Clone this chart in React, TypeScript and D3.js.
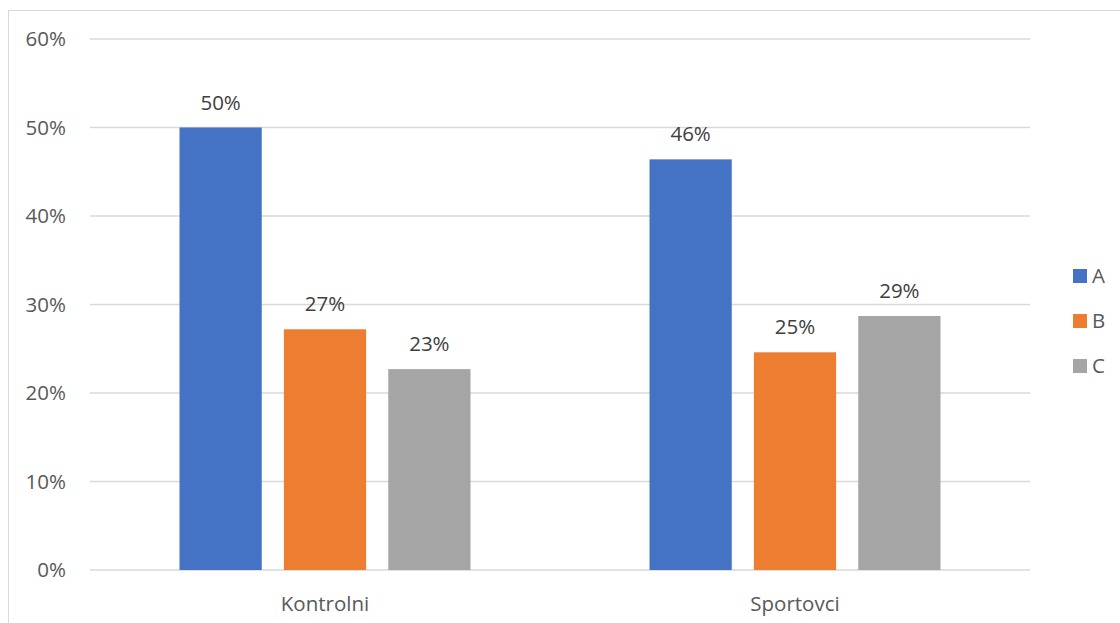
import React from "react";
import * as d3 from "d3";

const categories = ["Kontrolni", "Sportovci"];
const seriesNames = ["A", "B", "C"];
const seriesA = [0.5, 0.464];
const seriesB = [0.272, 0.246];
const seriesC = [0.227, 0.287];
const colors = ["#4472C4", "#ED7D31", "#A5A5A5"];
const yTicks = [0, 0.1, 0.2, 0.3, 0.4, 0.5, 0.6];

const W = 1120;
const H = 623;
const FONT = "'Open Sans', 'Noto Sans', sans-serif";
const FS = 20.5;

export default function App() {
  const series = [seriesA, seriesB, seriesC];
  const x0 = d3.scaleBand<string>().domain(categories).range([90, 1030]).paddingInner(0).paddingOuter(0);
  const x1 = d3.scaleBand<string>().domain(seriesNames).range([0, 291]).paddingInner(0.212).paddingOuter(0);
  const y = d3.scaleLinear().domain([0, 0.6]).range([570, 39]);
  const fmt = d3.format(".0%");

  return (
    <svg width={W} height={H} style={{ position: "absolute", left: 0, top: 0, background: "#fff" }}>
      <rect x={8.5} y={10.5} width={W} height={H} fill="#fff" stroke="#D9D9D9" strokeWidth={1} />
      {yTicks.map((t) => (
        <g key={t}>
          <line x1={90} x2={1030} y1={y(t)} y2={y(t)} stroke="#D9D9D9" strokeWidth={1.3} />
          <text x={66} y={y(t)} dy="0.35em" textAnchor="end" fontFamily={FONT} fontSize={FS} fill="#595959">
            {fmt(t)}
          </text>
        </g>
      ))}
      {categories.map((c, ci) => {
        const start = x0(c)! + (x0.bandwidth() - 291) / 2;
        return (
          <g key={c}>
            {series.map((s, si) => {
              const bx = start + x1(seriesNames[si])!;
              const v = s[ci];
              return (
                <g key={si}>
                  <rect x={bx} y={y(v)} width={x1.bandwidth()} height={y(0) - y(v)} fill={colors[si]} />
                  <text
                    x={bx + x1.bandwidth() / 2}
                    y={y(v) - 18}
                    textAnchor="middle"
                    fontFamily={FONT}
                    fontSize={FS}
                    fill="#404040"
                  >
                    {fmt(v)}
                  </text>
                </g>
              );
            })}
            <text x={x0(c)! + x0.bandwidth() / 2} y={611} textAnchor="middle" fontFamily={FONT} fontSize={FS} fill="#595959">
              {c}
            </text>
          </g>
        );
      })}
      {seriesNames.map((n, i) => (
        <g key={n} transform={`translate(1073, ${269 + i * 45})`}>
          <rect x={0} y={0} width={14} height={14} fill={colors[i]} />
          <text x={19} y={7} dy="0.35em" fontFamily={FONT} fontSize={FS} fill="#595959">
            {n}
          </text>
        </g>
      ))}
    </svg>
  );
}
